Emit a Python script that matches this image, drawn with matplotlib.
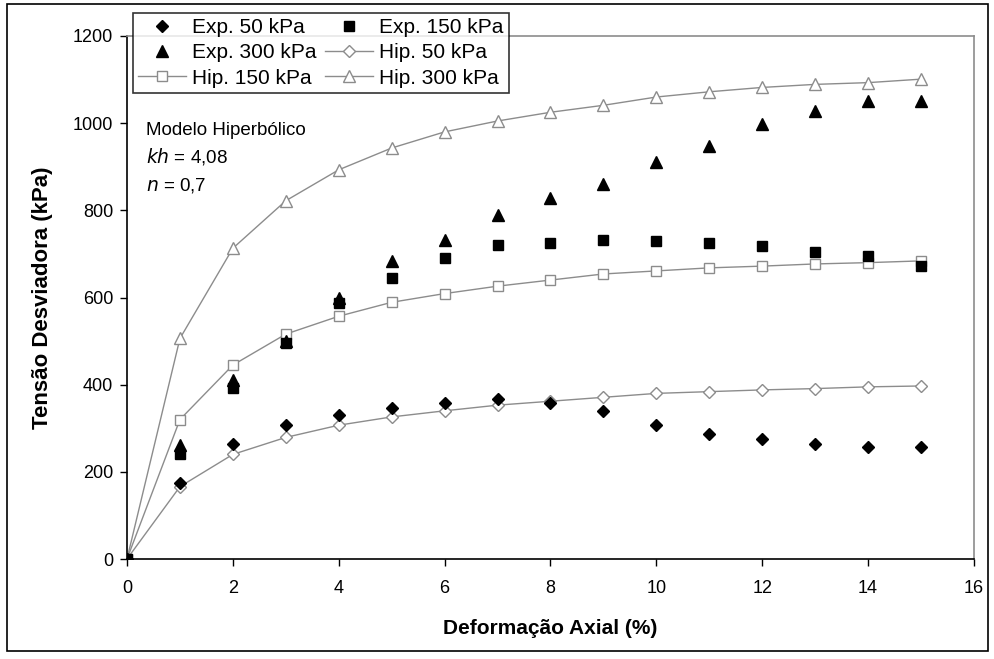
import matplotlib
matplotlib.use("Agg")
import matplotlib.pyplot as plt
from matplotlib.patches import Rectangle

plt.rcParams['font.family'] = ['Liberation Sans', 'DejaVu Sans']

strain = [0, 1, 2, 3, 4, 5, 6, 7, 8, 9, 10, 11, 12, 13, 14, 15]

exp_50 = [0, 175, 265, 307, 330, 346, 357, 366, 358, 339, 307, 286, 275, 265, 258, 258]
exp_150 = [0, 242, 392, 496, 587, 645, 690, 720, 725, 733, 730, 725, 718, 705, 696, 672]
exp_300 = [0, 262, 410, 500, 600, 683, 732, 789, 829, 860, 911, 947, 997, 1028, 1050, 1050]

hip_50 = [0, 166, 240, 279, 307, 326, 340, 353, 362, 371, 380, 384, 388, 391, 395, 397]
hip_150 = [0, 320, 445, 516, 557, 589, 609, 626, 640, 654, 661, 668, 672, 677, 680, 684]
hip_300 = [0, 506, 713, 822, 893, 943, 980, 1005, 1025, 1041, 1060, 1072, 1082, 1089, 1093, 1101]

x_ticks = [0, 2, 4, 6, 8, 10, 12, 14, 16]
y_ticks = [0, 200, 400, 600, 800, 1000, 1200]

fig = plt.figure(figsize=(9.95, 6.59), dpi=100)
ax = fig.add_axes([127/995, 1-559/659, (974-127)/995, (559-36)/659])

gray = '#8c8c8c'
l_h50, = ax.plot(strain, hip_50, color=gray, lw=1.0, marker='D', ms=6.5, mfc='white', mec=gray, mew=1.0, zorder=2)
l_h150, = ax.plot(strain, hip_150, color=gray, lw=1.0, marker='s', ms=7.5, mfc='white', mec=gray, mew=1.0, zorder=2)
l_h300, = ax.plot(strain, hip_300, color=gray, lw=1.0, marker='^', ms=8, mfc='white', mec=gray, mew=1.0, zorder=2)

l_e50, = ax.plot(strain, exp_50, ls='none', marker='D', ms=6, color='black', zorder=3)
l_e150, = ax.plot(strain, exp_150, ls='none', marker='s', ms=7, color='black', zorder=3)
l_e300, = ax.plot(strain, exp_300, ls='none', marker='^', ms=8, color='black', zorder=3)

ax.set_xlim(0, 16)
ax.set_ylim(0, 1200)
ax.set_xticks(x_ticks)
ax.set_yticks(y_ticks)
ax.tick_params(axis='both', direction='out', length=5, width=1.0, labelsize=13, colors='black')
ax.tick_params(axis='x', pad=10)
ax.tick_params(axis='y', pad=5)

for s in ['left', 'bottom']:
    ax.spines[s].set_color('black')
    ax.spines[s].set_linewidth(1.2)
for s in ['top', 'right']:
    ax.spines[s].set_color(gray)
    ax.spines[s].set_linewidth(1.2)

ax.set_xlabel('Deformação Axial (%)', fontsize=15, fontweight='bold', labelpad=16)
ax.set_ylabel('Tensão Desviadora (kPa)', fontsize=16, fontweight='bold', labelpad=14)

ax.text(0.023, 0.820, 'Modelo Hiperbólico', transform=ax.transAxes, fontsize=13.5, va='center')
ax.text(0.023, 0.769, r'$\it{kh}$ = 4,08', transform=ax.transAxes, fontsize=13.5, va='center')
ax.text(0.023, 0.715, r'$\it{n}$ = 0,7', transform=ax.transAxes, fontsize=13.5, va='center')

handles = [l_e50, l_e300, l_h150, l_e150, l_h50, l_h300]
labels = ['Exp. 50 kPa', 'Exp. 300 kPa', 'Hip. 150 kPa', 'Exp. 150 kPa', 'Hip. 50 kPa', 'Hip. 300 kPa']
leg = ax.legend(handles, labels, ncol=2, loc='upper left',
                bbox_to_anchor=(133/995, 1-13/659), bbox_transform=fig.transFigure,
                fontsize=15, frameon=True, fancybox=False, edgecolor='black',
                handlelength=2.3, handletextpad=0.3, columnspacing=0.4,
                labelspacing=0.3, borderpad=0.25, borderaxespad=0)
leg.get_frame().set_linewidth(1.2)
leg.set_zorder(5)

fig.patches.append(Rectangle((7/995, 1-651/659), (988-7)/995, (651-4)/659,
                             transform=fig.transFigure, fill=False, edgecolor='black', lw=1.2))

fig.savefig('out.png', dpi=100)
